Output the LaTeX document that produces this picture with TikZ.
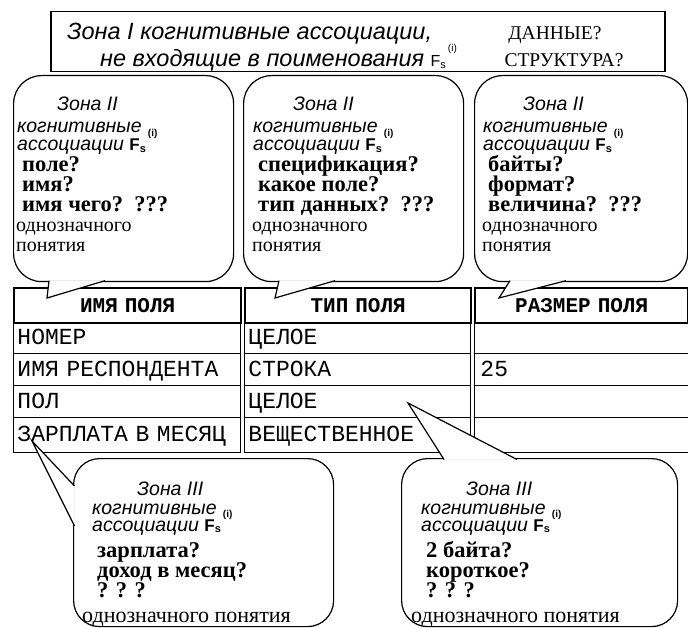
\documentclass[tikz,border=0pt]{standalone}
\usepackage{fontspec}
\setmainfont{Liberation Serif}
\setsansfont{Liberation Sans}
\setmonofont{Liberation Mono}
\usepackage{tikz}
\usetikzlibrary{calc}

\newcommand{\Fsb}{{\fontsize{17}{17}\selectfont\upshape\bfseries F}\raisebox{-1.5pt}{\upshape\bfseries\fontsize{11}{11}\selectfont s}\hspace{2pt}\raisebox{14pt}{\upshape\bfseries\fontsize{10}{10}\selectfont (i)}}
\newcommand{\Fsr}{{\fontsize{16}{16}\selectfont\upshape F}\raisebox{-1.5pt}{\upshape\fontsize{11}{11}\selectfont s}\hspace{2pt}\raisebox{15pt}{\upshape\fontsize{10}{10}\selectfont (i)}}

\tikzset{
  zone/.style={font=\fontsize{19.5}{20}\selectfont\sffamily\itshape, inner sep=0pt, anchor=base west},
  ask/.style={font=\fontsize{22.5}{24}\selectfont\rmfamily\bfseries, inner sep=0pt, anchor=base west},
  plain/.style={font=\fontsize{20}{22}\selectfont\rmfamily, inner sep=0pt, anchor=base west},
  bubble/.style={draw, fill=white, line width=1.2pt, rounded corners=28pt, anchor=north west, inner sep=0pt},
  tail/.style={draw, fill=white, line width=1.2pt},
  cell/.style={draw, line width=0.9pt, inner sep=0pt, inner xsep=4pt, anchor=north west, align=left, text height=13.5pt, text depth=0pt, font=\fontsize{23}{24}\selectfont\ttfamily},
  headcell/.style={cell, line width=2.4pt, align=center, font=\fontsize{21}{24}\selectfont\ttfamily\bfseries},
}

\begin{document}
\begin{tikzpicture}[x=1pt, y=-1pt]
    \useasboundingbox (0,0) rectangle (688,628);

    %zona I
    \node[draw, line width=1.5pt, minimum width=614, minimum height=60, anchor=north west, inner sep=0pt] (zone1) at (50,11) {};
    \node[zone, font=\fontsize{23.5}{24}\selectfont\sffamily\itshape] (z1a) at (67,40) {Зона I когнитивные ассоциации,};
    \node[zone, font=\fontsize{23.5}{24}\selectfont\sffamily\itshape] (z1b) at (100,67) {не входящие в поименования \Fsr};
    \node[font=\fontsize{19.5}{22}\selectfont\rmfamily, inner sep=0pt, anchor=base] (data) at (555,40) {ДАННЫЕ?};
    \node[font=\fontsize{19.5}{22}\selectfont\rmfamily, inner sep=0pt, anchor=base] (struct) at (564,67) {СТРУКТУРА?};

    %tabella
    \foreach \ry/\rh/\rn/\ta/\tb/\tc in {322/31/1/НОМЕР/ЦЕЛОЕ/{}, 353/32/2/ИМЯ РЕСПОНДЕНТА/СТРОКА/25, 385/32/3/ПОЛ/ЦЕЛОЕ/{}, 417/35/4/ЗАРПЛАТА В МЕСЯЦ/ВЕЩЕСТВЕННОЕ/{}} {
      \node[cell, text width=219pt, minimum height=\rh] (ra\rn) at (13,\ry) {\ta};
      \node[cell, text width=218pt, minimum height=\rh] (rb\rn) at (244,\ry) {\tb};
      \node[cell, text width=205pt, minimum height=\rh, inner xsep=6pt] (rc\rn) at (474,\ry) {\tc};
    }
    \node[headcell, text width=219pt, minimum height=35] (ha) at (13,287) {ИМЯ ПОЛЯ};
    \node[headcell, text width=218pt, minimum height=35] (hb) at (244,287) {ТИП ПОЛЯ};
    \node[headcell, text width=205pt, minimum height=35] (hc) at (474,287) {РАЗМЕР ПОЛЯ};

    %zona II
    \foreach \nm/\bx/\bw/\tx/\tp/\qa/\qb/\qc in {a/13/220/17/47/поле?/имя?/имя чего?, b/243/220/253/275/спецификация?/какое поле?/тип данных?, c/474/213/483/499/байты?/формат?/величина?} {
      \node[bubble, minimum width=\bw, minimum height=206] (z2\nm) at (\bx,75) {};
      \coordinate (tip2\nm) at (\tp,298);
      \draw[tail] ($(z2\nm.south west)+(36,-1.5)$) -- (tip2\nm) -- ($(z2\nm.south west)+(92,-1.5)$);
      \node[zone] (z2\nm-h) at (\tx+40,111) {Зона II};
      \node[zone] (z2\nm-k) at (\tx,133) {когнитивные};
      \node[zone] (z2\nm-a) at (\tx,151) {ассоциации \Fsb};
      \node[ask] (z2\nm-q1) at (\tx+5,172) {\qa};
      \node[ask] (z2\nm-q2) at (\tx+5,192) {\qb};
      \node[ask] (z2\nm-q3) at (\tx+5,212) {\qc\hspace{0.5em}???};
      \node[plain] (z2\nm-u1) at (\tx-1,232) {однозначного};
      \node[plain] (z2\nm-u2) at (\tx-1,252) {понятия};
    }

    %zona III
    \node[bubble, rounded corners=26pt, minimum width=260, minimum height=168] (z3a) at (73,458) {};
    \coordinate (tip3a) at (32,441);
    \draw[tail] ($(z3a.north west)+(1.5,28)$) -- (tip3a) -- ($(z3a.north west)+(1.5,68)$);
    \node[bubble, rounded corners=26pt, minimum width=276, minimum height=168] (z3b) at (401,458) {};
    \coordinate (tip3b) at (408,403);
    \draw[tail] ($(z3b.north west)+(43,1.5)$) -- (tip3b) -- ($(z3b.north west)+(116,1.5)$);
    \foreach \nm/\tx/\qa/\qb in {a/92/зарплата?/доход в месяц?, b/421/2 байта?/короткое?} {
      \node[zone] (z3\nm-h) at (\tx+45,495) {Зона III};
      \node[zone] (z3\nm-k) at (\tx,514) {когнитивные};
      \node[zone] (z3\nm-a) at (\tx,531) {ассоциации \Fsb};
      \node[ask] (z3\nm-q1) at (\tx+5,557) {\qa};
      \node[ask] (z3\nm-q2) at (\tx+5,577) {\qb};
      \node[ask] (z3\nm-q3) at (\tx+5,597) {? ? ?};
      \node[plain, font=\fontsize{22}{24}\selectfont\rmfamily] (z3\nm-u) at (\tx-10,622) {однозначного понятия};
    }
\end{tikzpicture}
\end{document}
